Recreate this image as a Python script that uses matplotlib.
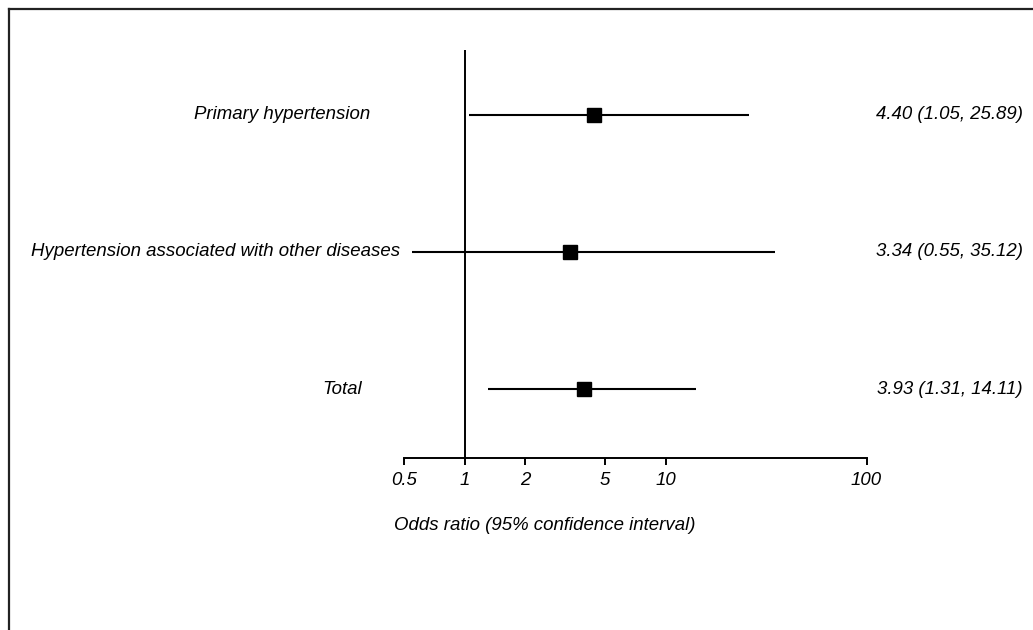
"""Forest plot of odds ratios for hypertension subgroups."""

import matplotlib.pyplot as plt
from matplotlib.lines import Line2D
from matplotlib.transforms import blended_transform_factory

plt.rcParams["font.family"] = ["Liberation Sans", "DejaVu Sans"]

labels = ["Primary hypertension", "Hypertension associated with other diseases", "Total"]
odds = [4.40, 3.34, 3.93]
lower = [1.05, 0.55, 1.31]
upper = [25.89, 35.12, 14.11]
ticks = [0.5, 1, 2, 5, 10, 100]
tick_labels = ["0.5", "1", "2", "5", "10", "100"]

# right edge (figure px) of each row label, as in the original layout
label_right = [370, 400, 362]
FS = 13.4

W, H = 1033, 630
fig = plt.figure(figsize=(W / 100, H / 100), dpi=100)

# axes spans the 0.5..100 scale; bottom is the axis line, top is the end of the null line
ax = fig.add_axes([404 / W, 1 - 458 / H, (866.5 - 404) / W, (458 - 50) / H])
ax.set_xscale("log")
ax.set_xlim(0.5, 100)
ax.set_ylim(0.5, 3.47)

ypos = [3, 2, 1]
for y, o, lo, hi in zip(ypos, odds, lower, upper):
    ax.plot([lo, hi], [y, y], color="black", lw=1.5, solid_capstyle="butt", clip_on=False)
    ax.plot(o, y, marker="s", color="black", ms=10.5, clip_on=False)

ax.axvline(1, color="black", lw=1.4)

for s in ["top", "right", "left"]:
    ax.spines[s].set_visible(False)
ax.spines["bottom"].set_linewidth(1.4)
ax.set_yticks([])
ax.set_xticks(ticks)
ax.set_xticklabels(tick_labels, fontstyle="italic", fontsize=FS)
ax.minorticks_off()
ax.tick_params(axis="x", length=5, width=1.4, pad=5)

tr = blended_transform_factory(fig.transFigure, ax.transData)
for y, lab, xr in zip(ypos, labels, label_right):
    t = fig.text(xr / W, 0, lab, transform=tr, ha="right", va="center",
                 fontstyle="italic", fontsize=FS)
    t.set_y(y)
for y, o, lo, hi in zip(ypos, odds, lower, upper):
    t = fig.text(1023 / W, 0, f"{o:.2f} ({lo:.2f}, {hi:.2f})", transform=tr,
                 ha="right", va="center", fontstyle="italic", fontsize=FS)
    t.set_y(y)

fig.text(545 / W, 1 - 525 / H, "Odds ratio (95% confidence interval)",
         ha="center", va="center", fontstyle="italic", fontsize=FS)

# frame: left and top edges only
fig.add_artist(Line2D([8.5 / W, 8.5 / W], [0, 1 - 8.5 / H], color="#222222", lw=1.6))
fig.add_artist(Line2D([8.5 / W, 1], [1 - 8.5 / H, 1 - 8.5 / H], color="#222222", lw=1.6))

fig.savefig("out.png", dpi=100)
